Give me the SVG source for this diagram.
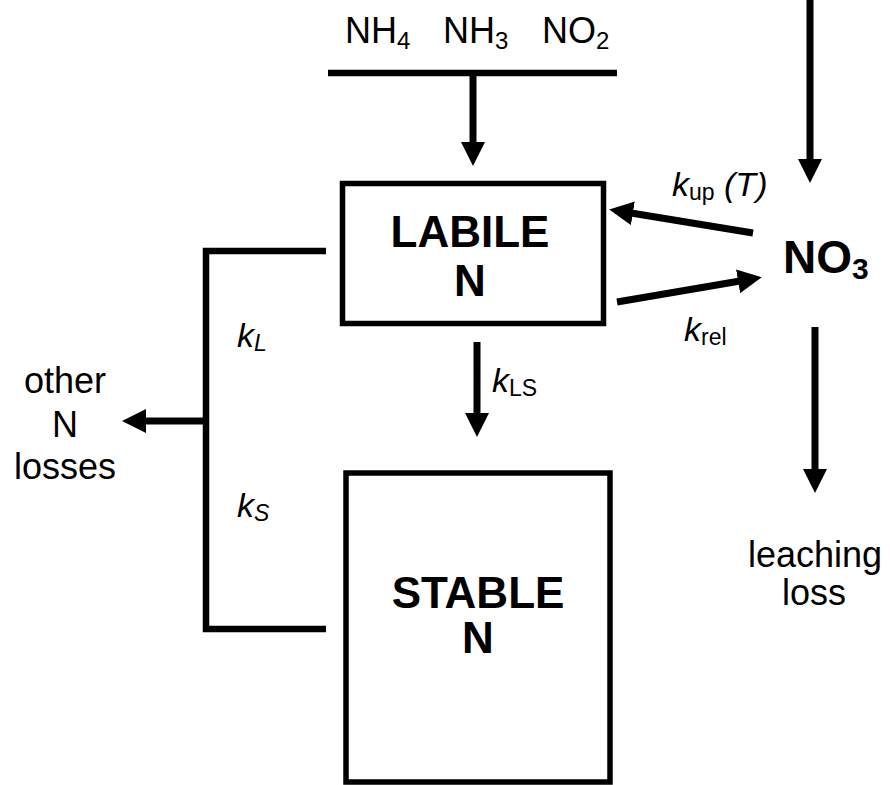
<svg xmlns="http://www.w3.org/2000/svg" width="890" height="785" viewBox="0 0 890 785">
<defs>
<marker id="ah" markerUnits="userSpaceOnUse" markerWidth="24" markerHeight="24" refX="8" refY="12" orient="auto">
<path d="M0,0 L24,12 L0,24 Z" fill="#000"/>
</marker>
<style>
text{font-family:"Liberation Sans",Arial,sans-serif;fill:#000}
.box{fill:#fff;stroke:#000;stroke-width:5.5}
.bold{font-weight:bold;font-size:44px;text-anchor:middle}
.lbl{font-size:36px}
.mid{text-anchor:middle}
.k{font-size:34px;font-style:italic}
.sub{font-size:23px;font-style:normal}
.isub{font-size:23px;font-style:italic}
.arr{stroke:#000;stroke-width:7;fill:none;marker-end:url(#ah)}
.ln{stroke:#000;stroke-width:6.5;fill:none}
</style>
</defs>
<rect width="890" height="785" fill="#fff"/>

<g id="connectors">
<line class="ln" x1="328" y1="73" x2="617" y2="73"/>
<line class="arr" x1="473" y1="73" x2="473" y2="150"/>
<line class="arr" x1="810" y1="0" x2="810" y2="167"/>
<line class="arr" x1="753" y1="233" x2="625" y2="212"/>
<line class="arr" x1="617" y1="302" x2="746" y2="280"/>
<line class="arr" x1="477" y1="342" x2="477" y2="421"/>
<line class="arr" x1="815" y1="327" x2="815" y2="477"/>
<polyline class="ln" points="326,251 206,251 206,629 326,629"/>
<line class="arr" x1="206" y1="421" x2="138" y2="421"/>
</g>

<g id="inputs">
<text class="lbl" x="345" y="43">NH<tspan font-size="24" dy="6">4</tspan></text>
<text class="lbl" x="443" y="43">NH<tspan font-size="24" dy="6">3</tspan></text>
<text class="lbl" x="542" y="43">NO<tspan font-size="24" dy="6">2</tspan></text>
</g>

<g id="labile">
<rect class="box" x="342.5" y="183.5" width="261" height="140"/>
<text class="bold" x="470" y="247">LABILE</text>
<text class="bold" x="470" y="296">N</text>
</g>

<g id="stable">
<rect class="box" x="346" y="473" width="264" height="309"/>
<text class="bold" x="478" y="608">STABLE</text>
<text class="bold" x="478" y="653">N</text>
</g>

<g id="no3">
<text x="783" y="273" font-size="46" font-weight="bold">NO<tspan font-size="30" dy="6">3</tspan></text>
</g>

<g id="other-losses">
<text class="lbl mid" x="65" y="393">other</text>
<text class="lbl mid" x="65" y="437">N</text>
<text class="lbl mid" x="65" y="479">losses</text>
</g>

<g id="leaching">
<text class="lbl mid" x="815" y="567">leaching</text>
<text class="lbl mid" x="814" y="605">loss</text>
</g>

<g id="rates">
<text class="k" x="672" y="196">k<tspan class="sub" dy="4">up</tspan><tspan dy="-4"> (T)</tspan></text>
<text class="k" x="684" y="341">k<tspan class="sub" dy="4">rel</tspan></text>
<text class="k" x="492" y="392">k<tspan class="sub" dy="4">LS</tspan></text>
<text class="k" x="237" y="347">k<tspan class="isub" dy="4">L</tspan></text>
<text class="k" x="237" y="517">k<tspan class="isub" dy="4">S</tspan></text>
</g>
</svg>
